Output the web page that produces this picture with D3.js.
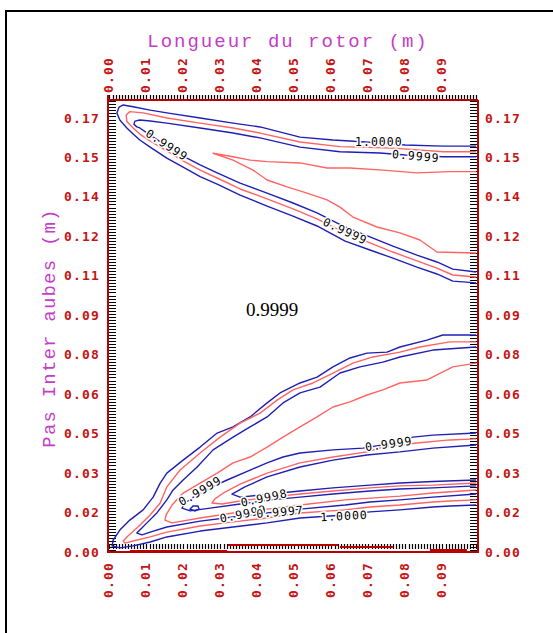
<!DOCTYPE html>
<html>
<head>
<meta charset="utf-8">
<script src="https://cdn.jsdelivr.net/npm/d3@7"></script>
<style>
html,body{margin:0;padding:0;background:#fff;}
svg{display:block;}
</style>
</head>
<body>
<svg id="chart" width="553" height="633"></svg>
<script>
// ---- axis tick labels ----
const xTickValues = [0, 0.01, 0.02, 0.03, 0.04, 0.05, 0.06, 0.07, 0.08, 0.09];
const xTickLabels = ["0.00","0.01","0.02","0.03","0.04","0.05","0.06","0.07","0.08","0.09"];
const yTickLabels = ["0.00","0.02","0.03","0.05","0.06","0.08","0.09","0.11","0.12","0.14","0.15","0.17"];

// ---- iso-lines, [longueur (m), pas (m)] ----
// upper family (opening towards long rotors)
const upperOuter = [[0.0995,0.1590],[0.0905,0.1590],[0.0803,0.1594],[0.0735,0.1602],[0.0654,0.1610],[0.0608,0.1614],[0.0519,0.1625],[0.0411,0.1665],[0.0338,0.1680],[0.0249,0.1700],[0.0159,0.1720],[0.0114,0.1731],[0.0068,0.1744],[0.0041,0.1751],[0.0030,0.1743],[0.0024,0.1720],[0.0032,0.1692],[0.0051,0.1661],[0.0068,0.1637],[0.0086,0.1614],[0.0114,0.1586],[0.0159,0.1543],[0.0203,0.1508],[0.0249,0.1470],[0.0295,0.1441],[0.0357,0.1398],[0.0430,0.1355],[0.0500,0.1316],[0.0565,0.1277],[0.0641,0.1218],[0.0708,0.1183],[0.0770,0.1151],[0.0835,0.1116],[0.0889,0.1089],[0.0932,0.1061],[0.0995,0.1054]];
const upperMid = [[0.0995,0.1568],[0.0905,0.1568],[0.0770,0.1582],[0.0627,0.1588],[0.0519,0.1606],[0.0411,0.1641],[0.0338,0.1661],[0.0249,0.1680],[0.0159,0.1700],[0.0095,0.1720],[0.0059,0.1725],[0.0049,0.1712],[0.0051,0.1686],[0.0068,0.1661],[0.0086,0.1637],[0.0114,0.1610],[0.0159,0.1571],[0.0203,0.1532],[0.0249,0.1496],[0.0295,0.1465],[0.0357,0.1422],[0.0430,0.1383],[0.0500,0.1344],[0.0565,0.1305],[0.0641,0.1250],[0.0708,0.1211],[0.0770,0.1175],[0.0835,0.1140],[0.0889,0.1112],[0.0932,0.1085],[0.0995,0.1077]];
const upperInner = [[0.0995,0.1548],[0.0905,0.1548],[0.0803,0.1555],[0.0735,0.1563],[0.0627,0.1568],[0.0519,0.1586],[0.0411,0.1622],[0.0338,0.1641],[0.0249,0.1661],[0.0159,0.1680],[0.0114,0.1688],[0.0086,0.1692],[0.0073,0.1688],[0.0070,0.1676],[0.0078,0.1665],[0.0086,0.1661],[0.0114,0.1633],[0.0159,0.1590],[0.0203,0.1551],[0.0249,0.1516],[0.0295,0.1485],[0.0357,0.1445],[0.0430,0.1406],[0.0500,0.1367],[0.0565,0.1328],[0.0641,0.1273],[0.0708,0.1234],[0.0770,0.1198],[0.0835,0.1163],[0.0889,0.1136],[0.0932,0.1108],[0.0995,0.1097]];
const upperCore = [[0.0995,0.1490],[0.0924,0.1490],[0.0835,0.1485],[0.0743,0.1496],[0.0654,0.1504],[0.0592,0.1504],[0.0519,0.1524],[0.0430,0.1529],[0.0384,0.1535],[0.0338,0.1548],[0.0284,0.1562],[0.0338,0.1535],[0.0392,0.1496],[0.0430,0.1457],[0.0484,0.1430],[0.0538,0.1406],[0.0592,0.1379],[0.0627,0.1351],[0.0662,0.1312],[0.0727,0.1273],[0.0789,0.1250],[0.0843,0.1222],[0.0889,0.1175],[0.0995,0.1171]];

// lower family
const lowerA = [[0.0995,0.0850],[0.0905,0.0850],[0.0862,0.0830],[0.0789,0.0803],[0.0754,0.0783],[0.0700,0.0779],[0.0654,0.0760],[0.0608,0.0725],[0.0565,0.0685],[0.0519,0.0662],[0.0465,0.0623],[0.0430,0.0584],[0.0384,0.0529],[0.0338,0.0490],[0.0295,0.0466],[0.0249,0.0411],[0.0203,0.0360],[0.0159,0.0309],[0.0141,0.0270],[0.0122,0.0215],[0.0095,0.0165],[0.0059,0.0125],[0.0032,0.0086],[0.0014,0.0047],[0.0011,0.0024],[0.0032,0.0016],[0.0068,0.0024],[0.0114,0.0039],[0.0159,0.0059],[0.0249,0.0082],[0.0338,0.0098],[0.0430,0.0114],[0.0519,0.0133],[0.0641,0.0145],[0.0708,0.0157],[0.0789,0.0165],[0.0878,0.0176],[0.0924,0.0180],[0.0995,0.0184]];
const lowerB = [[0.0995,0.0823],[0.0924,0.0823],[0.0843,0.0803],[0.0789,0.0783],[0.0716,0.0764],[0.0662,0.0740],[0.0608,0.0701],[0.0554,0.0662],[0.0500,0.0635],[0.0457,0.0595],[0.0411,0.0544],[0.0357,0.0505],[0.0303,0.0450],[0.0249,0.0388],[0.0195,0.0321],[0.0159,0.0255],[0.0141,0.0192],[0.0114,0.0145],[0.0081,0.0098],[0.0054,0.0063],[0.0041,0.0043],[0.0046,0.0035],[0.0068,0.0043],[0.0114,0.0059],[0.0159,0.0078],[0.0249,0.0102],[0.0338,0.0118],[0.0430,0.0133],[0.0519,0.0153],[0.0641,0.0165],[0.0708,0.0176],[0.0789,0.0184],[0.0878,0.0196],[0.0924,0.0200],[0.0995,0.0204]];
const lowerC = [[0.0995,0.0803],[0.0878,0.0791],[0.0789,0.0764],[0.0743,0.0744],[0.0681,0.0725],[0.0627,0.0701],[0.0573,0.0646],[0.0519,0.0623],[0.0473,0.0584],[0.0430,0.0529],[0.0384,0.0490],[0.0338,0.0450],[0.0284,0.0400],[0.0241,0.0333],[0.0203,0.0282],[0.0176,0.0243],[0.0159,0.0204],[0.0132,0.0153],[0.0108,0.0118],[0.0086,0.0086],[0.0078,0.0074],[0.0092,0.0067],[0.0114,0.0078],[0.0159,0.0098],[0.0249,0.0121],[0.0338,0.0137],[0.0430,0.0153],[0.0519,0.0168],[0.0641,0.0184],[0.0708,0.0196],[0.0789,0.0204],[0.0878,0.0215],[0.0995,0.0227]];
const lowerD = [[0.0995,0.0740],[0.0932,0.0725],[0.0862,0.0674],[0.0789,0.0662],[0.0743,0.0635],[0.0700,0.0615],[0.0654,0.0588],[0.0608,0.0568],[0.0565,0.0529],[0.0519,0.0490],[0.0473,0.0450],[0.0430,0.0411],[0.0384,0.0372],[0.0338,0.0349],[0.0295,0.0309],[0.0249,0.0270],[0.0203,0.0231],[0.0173,0.0184],[0.0157,0.0145],[0.0154,0.0125],[0.0173,0.0114],[0.0249,0.0133],[0.0338,0.0153],[0.0430,0.0168],[0.0519,0.0184],[0.0641,0.0204],[0.0789,0.0219],[0.0878,0.0231],[0.0995,0.0243]];
const lowerE = [[0.0995,0.0466],[0.0878,0.0458],[0.0824,0.0450],[0.0759,0.0423],[0.0689,0.0407],[0.0608,0.0400],[0.0519,0.0388],[0.0473,0.0372],[0.0430,0.0349],[0.0384,0.0321],[0.0322,0.0282],[0.0276,0.0251],[0.0235,0.0219],[0.0208,0.0192],[0.0200,0.0172],[0.0222,0.0161],[0.0276,0.0172],[0.0357,0.0188],[0.0438,0.0204],[0.0519,0.0215],[0.0608,0.0227],[0.0708,0.0239],[0.0789,0.0247],[0.0878,0.0251],[0.0995,0.0259]];
const lowerF = [[0.0995,0.0443],[0.0924,0.0439],[0.0835,0.0427],[0.0743,0.0411],[0.0700,0.0392],[0.0608,0.0372],[0.0519,0.0349],[0.0430,0.0309],[0.0357,0.0266],[0.0316,0.0235],[0.0289,0.0208],[0.0281,0.0192],[0.0308,0.0188],[0.0357,0.0200],[0.0438,0.0215],[0.0519,0.0227],[0.0608,0.0239],[0.0708,0.0251],[0.0789,0.0259],[0.0878,0.0262],[0.0995,0.0270]];
const lowerG = [[0.0995,0.0419],[0.0878,0.0407],[0.0789,0.0392],[0.0700,0.0380],[0.0608,0.0360],[0.0519,0.0333],[0.0430,0.0294],[0.0370,0.0255],[0.0335,0.0227],[0.0357,0.0215],[0.0438,0.0227],[0.0519,0.0239],[0.0608,0.0251],[0.0708,0.0262],[0.0789,0.0270],[0.0878,0.0276],[0.0995,0.0282]];
const lowerIsland = [[0.0222,0.0168],[0.0230,0.0180],[0.0243,0.0180],[0.0246,0.0168],[0.0235,0.0161]];

// iso-lines lying on the lower boundary
const edgeLines = [
  [[0.0059,0.0004],[0.0322,0.0004]],
  [[0.0324,0.0027],[0.0622,0.0027]],
  [[0.0627,0.0020],[0.0770,0.0020]],
  [[0.0870,0.0008],[0.0970,0.0008]]
];

// level labels: text, longueur, pas, angle
const levelLabels = [
  ["1.0000", 0.0732, 0.1606, 0],
  ["0.9999", 0.0832, 0.1551, 5],
  ["0.9999", 0.0159, 0.1594, 33],
  ["0.9999", 0.0641, 0.1257, 25],
  ["0.9999", 0.0759, 0.0423, -8],
  ["0.9999", 0.0249, 0.0239, -30],
  ["0.9998", 0.0422, 0.0212, -12],
  ["0.9999", 0.0365, 0.0149, -12],
  ["0.9997", 0.0465, 0.0157, -5],
  ["1.0000", 0.0638, 0.0141, -3]
];

const BLUE = "#1f1fb4", PINK = "#ff6464", AXIS = "#b80000", TICKTXT = "#c41414", TITLE = "#c43cc8";

const lines = [
  {pts: upperOuter, color: BLUE}, {pts: upperMid, color: PINK},
  {pts: upperInner, color: BLUE}, {pts: upperCore, color: PINK},
  {pts: lowerA, color: BLUE}, {pts: lowerB, color: PINK},
  {pts: lowerC, color: BLUE}, {pts: lowerD, color: PINK},
  {pts: lowerE, color: BLUE}, {pts: lowerF, color: PINK},
  {pts: lowerG, color: BLUE}
];

const svg = d3.select("#chart");
const L = 108, R = 478, T = 96, B = 552;
const x = d3.scaleLinear().domain([0, 0.1]).range([L, R]);
const y = d3.scaleLinear().domain([0, 0.17]).range([B, 118]);
const yTickValues = yTickLabels.map((s, i) => i * 0.17 / (yTickLabels.length - 1));

// outer frame
svg.append("rect").attr("x", 6).attr("y", 11).attr("width", 600).attr("height", 700)
  .attr("fill", "none").attr("stroke", "#000").attr("stroke-width", 2);

// minor tick ladders on the four sides (one path per side)
const yStep = 0.17 / 11 / 13, xStep = 0.01 / 12;
let pl = "", pr = "", pt = "", pb = "";
for (let i = 0; i < 150; i++) {
  const py = Math.round(y(0.0006 + i * yStep)) + 0.5;
  if (py < 99) break;
  pl += `M${L + 1},${py}H${L + 8}`;
  pr += `M${R - 8},${py}H${R - 1}`;
}
for (let i = 0; i < 130; i++) {
  const px = Math.round(x(0.0004 + i * xStep)) + 0.5;
  if (px > R - 1) break;
  pt += `M${px},${T - 1}V${T + 4}`;
  pb += `M${px},${B - 8}V${B - 3}`;
}
svg.append("path").attr("d", pl + pr + pt + pb)
  .attr("fill", "none").attr("stroke", "#000").attr("stroke-width", 1.2);

// clip to plotting area
svg.append("defs").append("clipPath").attr("id", "plot")
  .append("rect").attr("x", L).attr("y", 100).attr("width", R - L).attr("height", B - 100);

const line = d3.line().x(d => x(d[0])).y(d => y(d[1]));
const plot = svg.append("g").attr("clip-path", "url(#plot)");

plot.selectAll("path.iso").data(lines).join("path")
  .attr("class", "iso").attr("d", d => line(d.pts))
  .attr("fill", "none").attr("stroke", d => d.color).attr("stroke-width", 1.4)
  .attr("stroke-linejoin", "round");

plot.append("path").attr("d", line(lowerIsland) + "Z")
  .attr("fill", "none").attr("stroke", BLUE).attr("stroke-width", 1.4);

// boundary iso-lines
svg.selectAll("path.edge").data(edgeLines).join("path")
  .attr("class", "edge").attr("d", line)
  .attr("fill", "none").attr("stroke", AXIS).attr("stroke-width", 2);

// red frame of the plotting area
const frame = svg.append("g").attr("stroke", AXIS).attr("stroke-width", 2);
frame.append("line").attr("x1", L).attr("x2", L).attr("y1", T - 1).attr("y2", B + 1);
frame.append("line").attr("x1", R).attr("x2", R).attr("y1", 100).attr("y2", B + 1);
frame.append("line").attr("x1", L).attr("x2", R).attr("y1", 100).attr("y2", 100);
frame.append("line").attr("x1", L).attr("x2", R + 1).attr("y1", B).attr("y2", B);

// level labels
svg.selectAll("text.lvl").data(levelLabels).join("text")
  .attr("class", "lvl")
  .attr("transform", d => `translate(${x(d[1])},${y(d[2])}) rotate(${d[3]})`)
  .attr("text-anchor", "middle").attr("dy", "0.35em")
  .attr("font-family", "'DejaVu Sans Mono', monospace").attr("font-size", 11.5)
  .attr("letter-spacing", 1)
  .attr("fill", "#000").attr("stroke", "#fff").attr("stroke-width", 3)
  .attr("paint-order", "stroke")
  .text(d => d[0]);

// tick labels
const tickFont = "'DejaVu Sans Mono', monospace";
function styleTick(sel) {
  sel.attr("font-family", tickFont).attr("font-size", 13).attr("font-weight", "bold")
    .attr("letter-spacing", 1.2).attr("fill", TICKTXT).attr("dy", "0.35em");
}
svg.selectAll("text.yl").data(yTickValues).join("text").attr("class", "yl")
  .attr("x", 100).attr("y", d => y(d)).attr("text-anchor", "end")
  .call(styleTick).text((d, i) => yTickLabels[i]);
svg.selectAll("text.yr").data(yTickValues).join("text").attr("class", "yr")
  .attr("x", 485).attr("y", d => y(d)).attr("text-anchor", "start")
  .call(styleTick).text((d, i) => yTickLabels[i]);
svg.selectAll("text.xt").data(xTickValues).join("text").attr("class", "xt")
  .attr("transform", d => `translate(${x(d)},93) rotate(-90)`).attr("text-anchor", "start")
  .call(styleTick).text((d, i) => xTickLabels[i]);
svg.selectAll("text.xb").data(xTickValues).join("text").attr("class", "xb")
  .attr("transform", d => `translate(${x(d)},562) rotate(-90)`).attr("text-anchor", "end")
  .call(styleTick).text((d, i) => xTickLabels[i]);

// axis titles
const titleFont = "'Liberation Mono', monospace";
svg.append("text").attr("x", 288).attr("y", 40).attr("dy", "0.35em")
  .attr("text-anchor", "middle").attr("font-family", titleFont).attr("font-size", 19)
  .attr("letter-spacing", 2).attr("fill", TITLE).text("Longueur du rotor (m)");
svg.append("text").attr("transform", "translate(48,328) rotate(-90)").attr("dy", "0.35em")
  .attr("text-anchor", "middle").attr("font-family", titleFont).attr("font-size", 19)
  .attr("letter-spacing", 1.2).attr("fill", TITLE).text("Pas Inter aubes (m)");

// value annotation in the gap between the two families
svg.append("text").attr("x", 272).attr("y", 316).attr("text-anchor", "middle")
  .attr("font-family", "'Liberation Serif', 'Times New Roman', serif").attr("font-size", 19)
  .attr("fill", "#000").text("0.9999");
</script>
</body>
</html>
